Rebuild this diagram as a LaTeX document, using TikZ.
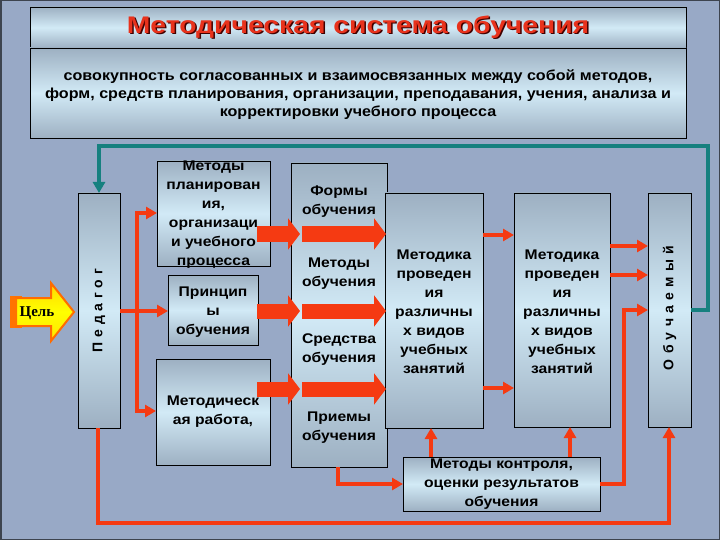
\documentclass[tikz,border=0pt]{standalone}
\usepackage{fontspec}
\setmainfont{Liberation Sans}
\newfontfamily\serifbf{Liberation Serif}
\newfontfamily\widebox[FakeStretch=1.12]{Liberation Sans}
\newfontfamily\widedef[FakeStretch=1.11]{Liberation Sans}
\newfontfamily\widetitle[FakeStretch=1.18]{Liberation Sans}
\usetikzlibrary{arrows.meta,calc}
\definecolor{bgc}{HTML}{98A9C6}
\definecolor{boxtop}{HTML}{9DB0C2}
\definecolor{boxmid}{HTML}{D2EAF6}
\definecolor{redc}{HTML}{F53A12}
\definecolor{tealc}{HTML}{16807F}
\definecolor{titlered}{HTML}{E8321C}
\begin{document}
\begin{tikzpicture}[x=1pt,y=-1pt,
  box/.style={draw=black,line width=0.9pt,top color=boxtop,bottom color=boxtop,middle color=boxmid,anchor=north west,inner sep=0pt,outer sep=0pt},
  btext/.style={font=\widebox\fontsize{14}{19}\selectfont\bfseries,align=center,inner sep=0pt},
  vtext/.style={rotate=90,inner sep=0pt},
  rarrow/.style={draw=redc,line width=3.6pt,-{Triangle[length=11pt,width=12pt]}},
  blockarrow/.style={draw=redc,line width=15pt,-{Triangle[length=12pt,width=31pt]}},
  tarrow/.style={draw=tealc,line width=3.6pt,-{Triangle[length=11pt,width=12pt]}}]
\useasboundingbox (0,0) rectangle (720,540);
\fill[bgc] (0,0) rectangle (720,540);
\draw[black!60!bgc,line width=1.5pt] (0.75,0.75) rectangle (719.25,539.25);
% top boxes
\node[box,minimum width=656pt,minimum height=41pt] (title) at (30,7) {};
\node[box,minimum width=656pt,minimum height=90pt] (defin) at (30,48) {};
\node[font=\widetitle\fontsize{24}{28}\selectfont\bfseries,text=black!75!red] (ts) at (359.5,28.5) {Методическая система обучения};
\node[font=\widetitle\fontsize{24}{28}\selectfont\bfseries,text=titlered] (tt) at (358,27) {Методическая система обучения};
\node[align=center,inner sep=0pt,font=\widedef\fontsize{14.5}{18}\selectfont\bfseries] (dt) at (358,95) {совокупность согласованных и взаимосвязанных между собой методов,\\форм, средств планирования, организации, преподавания, учения, анализа и\\корректировки учебного процесса};
% main boxes
\node[box,minimum width=42pt,minimum height=235pt] (ped) at (78,193) {};
\node[vtext,font=\fontsize{14}{16}\selectfont\bfseries\addfontfeature{LetterSpace=34}] (pedt) at (ped.center) {Педагог};
\node[box,minimum width=113pt,minimum height=105pt] (plan) at (157,161) {};
\node[btext] (plant) at (213.5,215) {Методы\\планирован\\ия,\\организаци\\и учебного\\процесса};
\node[box,minimum width=90pt,minimum height=70pt] (princ) at (168,275) {};
\node[btext] (princt) at (213,312) {Принцип\\ы\\обучения};
\node[box,minimum width=114pt,minimum height=106pt] (metw) at (156,359) {};
\node[btext] (metwt) at (213,412) {Методическ\\ая работа,};
\node[box,minimum width=96pt,minimum height=304pt] (forms) at (291,163) {};
\node[btext] (f1) at (339,202) {Формы\\обучения};
\node[btext] (f2) at (339,274) {Методы\\обучения};
\node[btext] (f3) at (339,350) {Средства\\обучения};
\node[btext] (f4) at (339,428) {Приемы\\обучения};
\node[box,minimum width=98pt,minimum height=235pt] (met1) at (385,193) {};
\node[btext] (met1t) at (434,312) {Методика\\проведен\\ия\\различны\\х видов\\учебных\\занятий};
\node[box,minimum width=96pt,minimum height=234pt] (met2) at (514,193) {};
\node[btext] (met2t) at (562,312) {Методика\\проведен\\ия\\различны\\х видов\\учебных\\занятий};
\node[box,minimum width=43pt,minimum height=234pt] (obu) at (648,193) {};
\node[vtext,font=\fontsize{14}{16}\selectfont\bfseries\addfontfeature{LetterSpace=38}] (obut) at (669.5,308) {Обучаемый};
\node[box,minimum width=197pt,minimum height=54pt] (ctrl) at (403,457) {};
\node[btext] (ctrlt) at (501.5,484.5) {Методы контроля,\\оценки результатов\\обучения};
% goal arrow
\fill[orange!90!red] (10,296) rectangle (22,328);
\filldraw[draw=orange!85!red,line width=2pt,top color=yellow!70!orange,bottom color=yellow!80!orange,middle color=yellow] (16,298) -- (51,298) -- (51,283) -- (74,312) -- (51,341) -- (51,326) -- (16,326) -- cycle;
\fill[orange!90!red] (11,298) rectangle (17,326);
\node[font=\fontsize{15}{17}\selectfont\serifbf\bfseries] (goal) at (37,313) {Цель};
% teal feedback
\draw[tarrow] (obu.east |- 0,310) -- (708,310) -- (708,146) -- (99,146) -- (ped.north -| 99,0);
% red thin arrows from pedagog
\draw[rarrow] (ped.east |- 0,311) -- (princ.west |- 0,311);
\draw[draw=redc,line width=3.6pt] (137,213) -- (137,411);
\draw[rarrow] (135.2,213) -- (plan.west |- 0,213);
\draw[rarrow] (135.2,411) -- (metw.west |- 0,411);
% block arrows
\foreach \yy in {234,311,389}{
  \draw[blockarrow] (257,\yy) -- (300,\yy);
  \draw[blockarrow] (302,\yy) -- (386,\yy);
}
% met1 -> met2
\draw[rarrow] (met1.east |- 0,235) -- (met2.west |- 0,235);
\draw[rarrow] (met1.east |- 0,388) -- (met2.west |- 0,388);
\draw[rarrow] (met2.east |- 0,246) -- (obu.west |- 0,246);
\draw[rarrow] (met2.east |- 0,275) -- (obu.west |- 0,275);
% control
\draw[rarrow] (forms.south -| 338,0) -- (338,484) -- (ctrl.west |- 0,484);
\draw[rarrow] (ctrl.north -| 431,0) -- (met1.south -| 431,0);
\draw[rarrow] (ctrl.north -| 570,0) -- (met2.south -| 570,0);
\draw[rarrow] (ctrl.east |- 0,484) -- (624,484) -- (624,310) -- (obu.west |- 0,310);
% bottom loop
\draw[rarrow] (ped.south -| 98,0) -- (98,523) -- (669,523) -- (obu.south -| 669,0);
\end{tikzpicture}
\end{document}
